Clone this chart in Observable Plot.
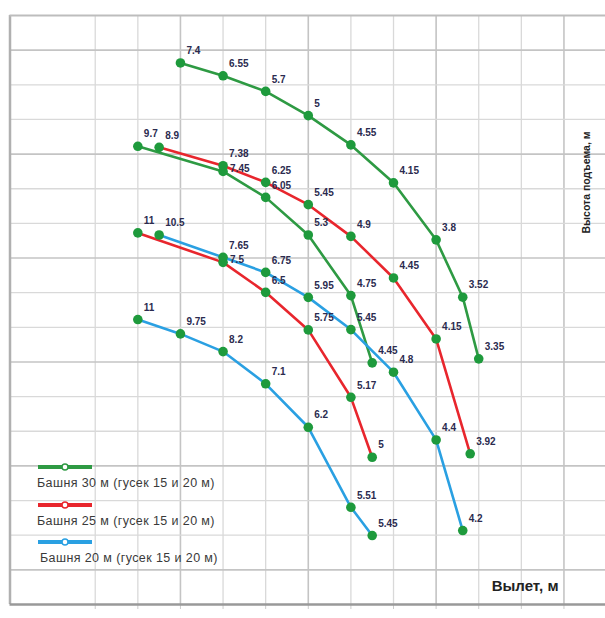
<!DOCTYPE html>
<html>
<head>
<meta charset="utf-8">
<script src="https://cdn.jsdelivr.net/npm/d3@7"></script>
<script src="https://cdn.jsdelivr.net/npm/@observablehq/plot@0.6"></script>
<style>
  html, body { margin: 0; padding: 0; background: #fff; }
  #wrap { position: relative; width: 605px; height: 618px; font-family: "Liberation Sans", Arial, sans-serif; }
  #legend { position: absolute; left: 37px; top: 462px; }
  .li { height: 37.5px; position: relative; }
  .li svg { display: block; }
  .li span { display: block; font-size: 12.5px; color: #3a3a3a; margin-top: 4px; white-space: nowrap; letter-spacing: 0.4px; }
</style>
</head>
<body>
<div id="wrap"></div>
<script>
// Reach (m), hook height (m) and load labels (t) per curve
const reachGreenA = [8, 10, 12, 14, 16, 18, 20, 21.25, 22];
const heightGreenA = [31.26, 30.52, 29.62, 28.22, 26.53, 24.34, 21.05, 17.74, 14.18];
const loadGreenA = ["7.4", "6.55", "5.7", "5", "4.55", "4.15", "3.8", "3.52", "3.35"];

const reachGreenB = [6, 10, 12, 14, 16, 17];
const heightGreenB = [26.45, 25.0, 23.5, 21.33, 17.83, 13.95];
const loadGreenB = ["9.7", "7.45", "6.05", "5.3", "4.75", "4.45"];

const reachRedA = [7, 10, 12, 14, 16, 18, 20, 21.6];
const heightRedA = [26.39, 25.33, 24.37, 23.08, 21.25, 18.85, 15.33, 8.70];
const loadRedA = ["8.9", "7.38", "6.25", "5.45", "4.9", "4.45", "4.15", "3.92"];

const reachRedB = [6, 10, 12, 14, 16, 17];
const heightRedB = [21.45, 19.75, 18.02, 15.85, 11.96, 8.50];
const loadRedB = ["11", "7.5", "6.5", "5.75", "5.17", "5"];

const reachBlueA = [7, 10, 12, 14, 16, 18, 20, 21.25];
const heightBlueA = [21.33, 20.04, 19.17, 17.73, 15.87, 13.41, 9.50, 4.27];
const loadBlueA = ["10.5", "7.65", "6.75", "5.95", "5.45", "4.8", "4.4", "4.2"];

const reachBlueB = [6, 8, 10, 12, 14, 16, 17];
const heightBlueB = [16.45, 15.62, 14.60, 12.74, 10.23, 5.61, 3.98];
const loadBlueB = ["11", "9.75", "8.2", "7.1", "6.2", "5.51", "5.45"];

const legendLabels = ["Башня 30 м (гусек 15 и 20 м)", "Башня 25 м (гусек 15 и 20 м)", "Башня 20 м (гусек 15 и 20 м)"];
const seriesColors = ["#2e9a43", "#e8262d", "#2aa0e2"];
const xTitle = "Вылет, м";
const yTitle = "Высота подъема, м";

const xMinor = [4, 6, 10, 12, 16, 18, 22, 24];
const xMajor = [8, 14, 20, 26];
const yMinor = [4, 6, 10, 12, 16, 18, 22, 24, 28, 30];
const yMajor = [2, 8, 14, 20, 26, 32];

function curve(reach, height, load, series) {
  return reach.map((r, i) => ({reach: r, height: height[i], load: load[i], series}));
}
const curves = [
  curve(reachGreenA, heightGreenA, loadGreenA, 0),
  curve(reachGreenB, heightGreenB, loadGreenB, 0),
  curve(reachRedA, heightRedA, loadRedA, 1),
  curve(reachRedB, heightRedB, loadRedB, 1),
  curve(reachBlueA, heightBlueA, loadBlueA, 2),
  curve(reachBlueB, heightBlueB, loadBlueB, 2)
];
const allPts = curves.flat();
// a label is "crowded" when another curve has a point just above it at the same reach
const crowded = d => allPts.some(o => o !== d && o.reach === d.reach && o.height > d.height && o.height - d.height < 0.6);

const font = "Liberation Sans, Arial, sans-serif";
const marks = [
  Plot.ruleX(xMinor, {stroke: "#d9d9d9", strokeWidth: 1.3}),
  Plot.ruleX(xMajor, {stroke: "#c4c4c4", strokeWidth: 1.6}),
  Plot.ruleY(yMinor, {stroke: "#d9d9d9", strokeWidth: 1.3}),
  Plot.ruleY(yMajor, {stroke: "#c4c4c4", strokeWidth: 1.6}),
  Plot.axisX({ticks: [...xMinor, ...xMajor], tickSize: 5, tickFormat: () => "", stroke: "#cccccc", label: null}),
  Plot.ruleX([0], {stroke: "#b0b0b0", strokeWidth: 2.5}),
  Plot.ruleY([0], {stroke: "#999999", strokeWidth: 2.5}),
  Plot.ruleY([34], {stroke: "#bdbdbd", strokeWidth: 2})
];
curves.forEach(c => {
  marks.push(Plot.line(c, {x: "reach", y: "height", stroke: seriesColors[c[0].series], strokeWidth: 2.6}));
});
marks.push(Plot.dot(allPts, {x: "reach", y: "height", r: 4.8, fill: "#1e9a3c", stroke: "none"}));
marks.push(Plot.text(allPts.filter(d => !crowded(d)), {x: "reach", y: "height", text: "load", textAnchor: "start", dx: 6, dy: -12,
  fontSize: 10, fontWeight: "bold", fill: "#2b2b4f", fontFamily: font}));
marks.push(Plot.text(allPts.filter(crowded), {x: "reach", y: "height", text: "load", textAnchor: "start", dx: 7, dy: -3,
  fontSize: 10, fontWeight: "bold", fill: "#2b2b4f", fontFamily: font}));
marks.push(Plot.text([xTitle], {frameAnchor: "bottom-right", textAnchor: "end", dx: -47, dy: -14,
  fontSize: 15, fontWeight: "bold", fill: "#222", letterSpacing: "2px", fontFamily: font}));
marks.push(Plot.text([yTitle], {frameAnchor: "top-right", textAnchor: "middle", rotate: -90, dx: -23, dy: 167,
  fontSize: 10.5, fontWeight: "bold", fill: "#222", fontFamily: font}));

const chart = Plot.plot({
  width: 605,
  height: 618,
  marginLeft: 9.5,
  marginRight: 0,
  marginTop: 15,
  marginBottom: 14,
  x: {domain: [0, 27.95], axis: null},
  y: {domain: [0, 34], axis: null},
  style: {background: "#fff", overflow: "visible"},
  marks
});
const wrap = document.getElementById("wrap");
wrap.appendChild(chart);

const legend = document.createElement("div");
legend.id = "legend";
legendLabels.forEach((lab, i) => {
  const item = document.createElement("div");
  item.className = "li";
  item.innerHTML = `<svg width="56" height="10"><line x1="1" y1="5" x2="55" y2="5" stroke="${seriesColors[i]}" stroke-width="4"/>` +
    `<circle cx="28" cy="5" r="3" fill="#fff" stroke="${seriesColors[i]}" stroke-width="1.5"/></svg>` +
    `<span style="margin-left:${i === 2 ? 3 : 0}px">${lab}</span>`;
  legend.appendChild(item);
});
wrap.appendChild(legend);
</script>
</body>
</html>
